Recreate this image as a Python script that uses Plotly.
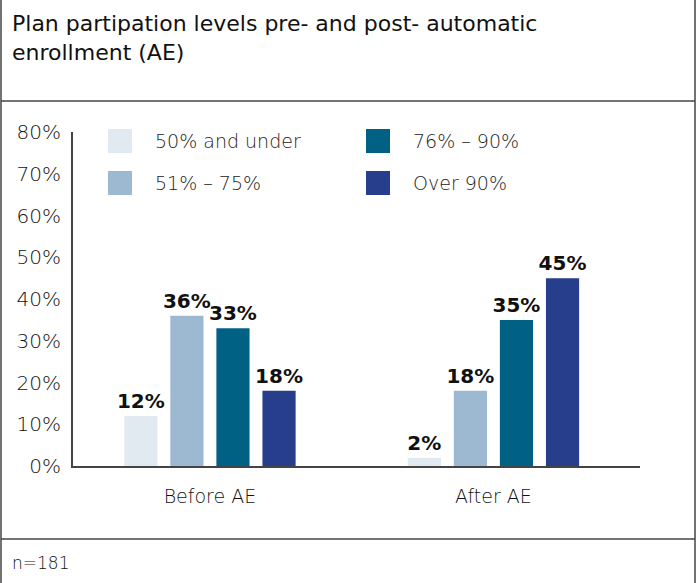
import plotly.graph_objects as go

categories = ["Before AE", "After AE"]
series_names = ["50% and under", "51% – 75%", "76% – 90%", "Over 90%"]
series_values = [
    [12, 2],
    [36, 18],
    [33, 35],
    [18, 45],
]
colors = ["#e1e9f1", "#9cb9d1", "#006185", "#263e8c"]
y_ticks = [0, 10, 20, 30, 40, 50, 60, 70, 80]
y_tick_labels = [f"{v}%" for v in y_ticks]

FONT = "DejaVu Sans"

fig = go.Figure()
for name, vals, col in zip(series_names, series_values, colors):
    fig.add_trace(go.Bar(
        x=categories, y=vals, name=name,
        marker=dict(color=col, line=dict(width=0)),
        text=[f"{v}%" for v in vals], textposition="outside",
        constraintext="none",
        textfont=dict(family=FONT, size=20, color="#111111", weight="bold"),
        cliponaxis=False, showlegend=False,
    ))

fig.update_layout(
    width=697, height=583,
    margin=dict(l=73, r=57, t=132, b=117),
    paper_bgcolor="white", plot_bgcolor="white",
    barmode="group", bargap=0.35, bargroupgap=0.28,
    font=dict(family=FONT, color="#111111"),
    uniformtext=dict(mode=False),
)
fig.update_xaxes(
    range=[-0.483, 1.517],
    showline=True, linecolor="#444444", linewidth=2,
    showgrid=False, ticks="outside", ticklen=12, tickcolor="rgba(0,0,0,0)",
    tickfont=dict(family=FONT, size=19, color="#111111", weight=300),
)
fig.update_yaxes(
    range=[0, 80], tickvals=y_ticks, ticktext=y_tick_labels,
    showline=True, linecolor="#444444", linewidth=2,
    showgrid=False, zeroline=False,
    ticks="outside", ticklen=6, tickcolor="rgba(0,0,0,0)",
    tickfont=dict(family=FONT, size=20, color="#111111", weight=300),
)

def px_x(x):
    return (x - 73) / 567

def px_y(y):
    return (466 - y) / 334

# Manual legend (2 columns)
legend_pos = [(108, 141), (108, 183), (366, 141), (366, 183)]
for (lx, ly), name, col in zip(legend_pos, series_names, colors):
    fig.add_shape(type="rect", xref="paper", yref="paper",
                  x0=px_x(lx), x1=px_x(lx + 24),
                  y0=px_y(ly + 12), y1=px_y(ly - 12),
                  fillcolor=col, line=dict(width=0))
    fig.add_annotation(xref="paper", yref="paper",
                       x=px_x(lx + 45), y=px_y(ly),
                       text=name, showarrow=False, xanchor="left", yanchor="middle",
                       font=dict(family=FONT, size=19, color="#222222", weight=300))

# Title
fig.add_annotation(xref="paper", yref="paper", x=px_x(10), y=px_y(38),
                   text="Plan partipation levels pre- and post- automatic<br>enrollment (AE)",
                   showarrow=False, xanchor="left", yanchor="middle", align="left",
                   font=dict(family=FONT, size=22, color="#111111", weight=500))
# Footer
fig.add_annotation(xref="paper", yref="paper", x=px_x(10), y=px_y(563),
                   text="n=181", showarrow=False, xanchor="left", yanchor="middle",
                   font=dict(family=FONT, size=17, color="#111111", weight=300))

# Frame lines
frame = [
    (1, 0, 1, 583), (695, 0, 695, 583),
    (1, 101, 695, 101), (1, 539, 695, 539),
]
for x0, y0, x1, y1 in frame:
    fig.add_shape(type="line", xref="paper", yref="paper",
                  x0=px_x(x0), y0=px_y(y0), x1=px_x(x1), y1=px_y(y1),
                  line=dict(color="#444444", width=1.5))

fig.write_html("out.html", config={"displayModeBar": False},
               post_script="document.body.style.margin='0';document.body.style.overflow='hidden';")
